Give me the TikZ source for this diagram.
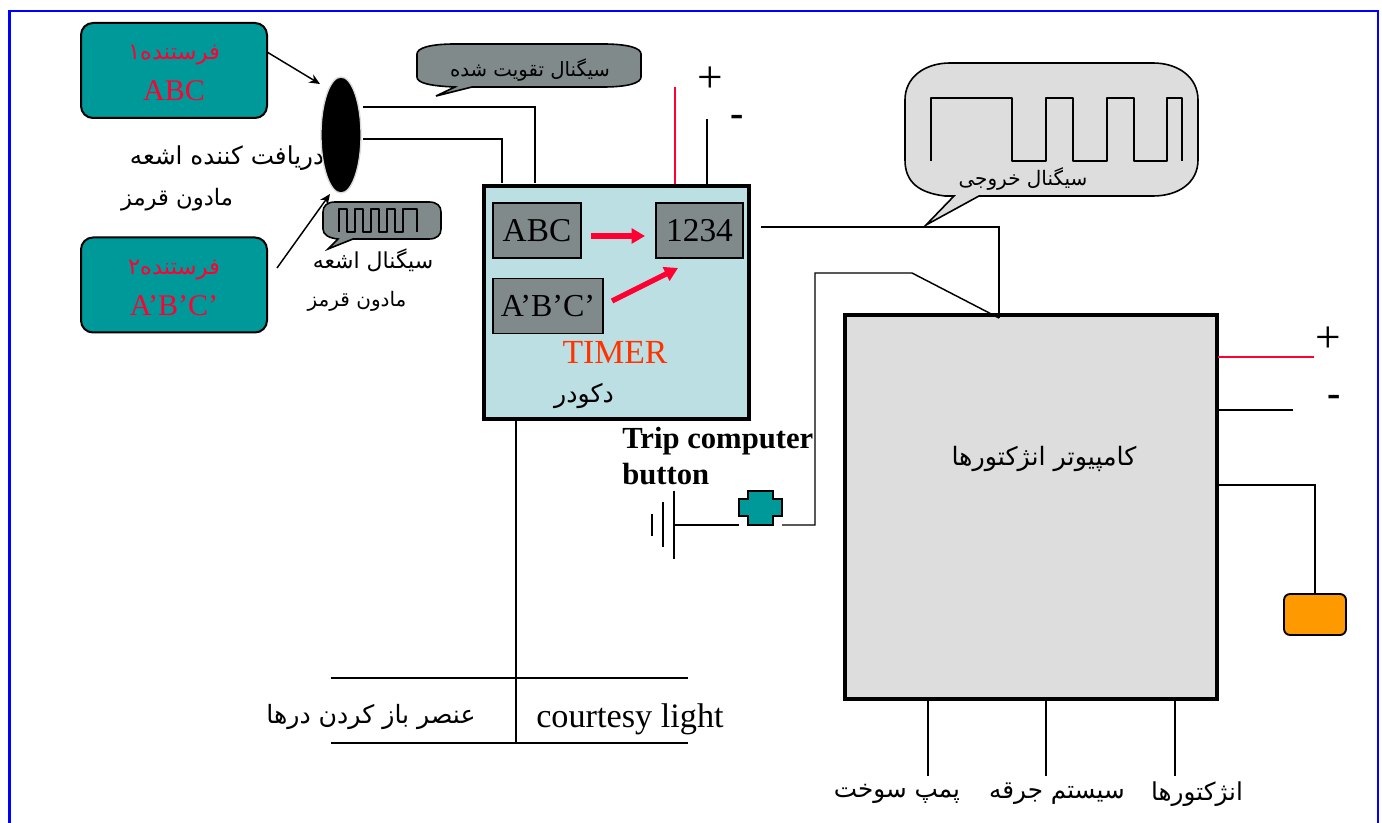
\documentclass[tikz,border=0pt]{standalone}
\usepackage{fontspec}
\usepackage{xcolor}
\setmainfont{Liberation Serif}
\newfontfamily\arabicfont[Script=Arabic]{DejaVu Sans}
\TeXXeTstate=1
\usetikzlibrary{arrows.meta,shapes.geometric}
\definecolor{senderteal}{HTML}{009999}
\definecolor{signalred}{HTML}{FF0033}
\definecolor{boxgray}{HTML}{808A8A}
\definecolor{panelgray}{HTML}{DDDDDD}
\definecolor{timerblue}{HTML}{BBDFE3}
\definecolor{timerorange}{HTML}{FF3300}
\definecolor{lamporange}{HTML}{FF9900}
\newcommand{\fa}[1]{{\arabicfont\beginR #1\endR}}
\newcommand{\fs}[1]{\fontsize{#1}{#1}\selectfont}
\tikzset{
  wire/.style={line width=1.1},
  redwire/.style={line width=1.1, signalred},
  pointer/.style={line width=1.1, -{Stealth[length=8, width=7]}},
  redpointer/.style={line width=4, signalred, -{Triangle[length=10, width=11]}},
  sender/.style={draw, line width=1.5, fill=senderteal, rounded corners=9, minimum width=139.5, minimum height=71.25, inner sep=0pt},
  codebox/.style={draw, line width=1.4, fill=boxgray, inner sep=0pt, minimum height=41.25},
  bubble/.style={draw, line width=1.2, fill=boxgray},
  pulse/.style={line width=1.2, line join=round},
  plain/.style={inner sep=0pt, align=center}
}
\begin{document}
\begin{tikzpicture}[x=0.75pt, y=-0.75pt]
  \useasboundingbox (0,0) rectangle (1382,823);
  % Page frame
  \draw[line width=2, blue] (9.5,823) -- (9.5,11) -- (1378,11) -- (1378,823);

  % Senders
  \node[sender] (sendera) at (174,70.5) {};
  \node[sender] (senderb) at (174,285) {};
  \node[plain, signalred, font=\fs{17}] (senderatitle) at (174,55) {\fa{فرستنده۱}};
  \node[plain, signalred, font=\fs{22.5}] (senderacode) at (174,91) {ABC};
  \node[plain, signalred, font=\fs{17}] (senderbtitle) at (174,270) {\fa{فرستنده۲}};
  \node[plain, signalred, font=\fs{22.5}] (senderbcode) at (174,306) {A’B’C’};

  % Receiver
  \node[plain, font=\fs{18.5}] (receivertext) at (227,158) {\fa{دریافت کننده اشعه}};
  \node[plain, font=\fs{17}] (receivertextb) at (177,200) {\fa{مادون قرمز}};
  \node[draw=black!15, line width=1, fill=black, ellipse, minimum width=30, minimum height=87, inner sep=0pt] (receiver) at (341,135) {};
  \coordinate (sendaout) at (267,52);
  \coordinate (sendain) at (320,84);
  \coordinate (sendbout) at (277,268);
  \coordinate (sendbin) at (330,194);
  \draw[pointer] (sendaout) -- (sendain);
  \draw[pointer] (sendbout) -- (sendbin);

  % Small signal bubble
  \draw[bubble] (335,202) -- (429,202) .. controls (437,202) and (441,206) .. (441,212)
    -- (441,229) .. controls (441,235) and (437,239) .. (429,239)
    -- (353,239) -- (328,249) -- (338,239) .. controls (329,238) and (323,235) .. (323,229)
    -- (323,212) .. controls (323,206) and (327,202) .. (335,202) -- cycle;
  \draw[pulse] (339,232) -- (339,209) -- (347,209) -- (347,232) -- (355,232) -- (355,209) -- (363,209) -- (363,232)
    -- (371,232) -- (371,209) -- (379,209) -- (379,232) -- (387,232) -- (387,209) -- (395,209) -- (395,232)
    -- (403,232) -- (403,209) -- (417,209) -- (417,232);
  \node[plain, font=\fs{16.5}] (infrared) at (373,260) {\fa{سیگنال اشعه}};
  \node[plain, font=\fs{15}] (infraredb) at (357,301) {\fa{مادون قرمز}};

  % Boosted signal bubble
  \draw[bubble] (455,44) -- (603,44) .. controls (628,44) and (641,48) .. (641,54)
    -- (641,77) .. controls (641,83) and (628,87) .. (603,87)
    -- (472,87) -- (436,96) -- (455,87) .. controls (430,86) and (417,83) .. (417,77)
    -- (417,54) .. controls (417,48) and (430,44) .. (455,44) -- cycle;
  \node[plain, font=\fs{14.8}] (boosted) at (530,70) {\fa{سیگنال تقویت شده}};

  % Timer block
  \node[draw, line width=3, fill=timerblue, minimum width=198.75, minimum height=174.75, inner sep=0pt] (timer) at (616.5,302.5) {};
  \node[codebox, minimum width=66, font=\fs{25}] (codea) at (537,230.5) {ABC};
  \node[codebox, minimum width=65.25, font=\fs{25}] (codeout) at (699.5,230.5) {1234};
  \node[codebox, minimum width=82.5, font=\fs{24}] (codeb) at (548,306) {A’B’C’};
  \node[plain, timerorange, font=\fs{25.3}] (timerlabel) at (615,352) {TIMER};
  \node[plain, font=\fs{18.9}] (decoder) at (584,396) {\fa{دکودر}};
  \coordinate (arrowa) at (591,236);
  \coordinate (arrowb) at (645,236);
  \coordinate (arrowc) at (612,301);
  \coordinate (arrowd) at (678,268);
  \draw[redpointer] (arrowa) -- (arrowb);
  \draw[redpointer] (arrowc) -- (arrowd);

  % Wires into timer
  \draw[wire] (363,107) -- (535,107) -- (535,183);
  \draw[wire] (363,139) -- (502,139) -- (502,183);
  \draw[redwire] (675,87) -- (675,184);
  \draw[wire] (707,119) -- (707,184);
  \node[plain, font=\fs{34}] (timerplus) at (710,80) {+};
  \node[plain, font=\fs{30}\bfseries] (timerminus) at (737,121) {-};

  % Output signal bubble
  \draw[line width=1.2, fill=panelgray] (954,196) -- (945,196) .. controls (920,193) and (905,183) .. (905,160)
    -- (905,100) .. controls (905,77) and (925,63) .. (950,63)
    -- (1153,63) .. controls (1178,63) and (1198,77) .. (1198,100)
    -- (1198,160) .. controls (1198,183) and (1178,196) .. (1153,196)
    -- (979,196) -- (926,225) -- cycle;
  \draw[pulse] (931,161) -- (931,98) -- (1012,98) -- (1012,161) -- (1046,161) -- (1046,98) -- (1073,98) -- (1073,161)
    -- (1107,161) -- (1107,98) -- (1134,98) -- (1134,161) -- (1167,161) -- (1167,98) -- (1182,98) -- (1182,161);
  \node[plain, font=\fs{15}] (outsignal) at (1023,179) {\fa{سیگنال خروجی}};

  % Injector computer
  \node[draw, line width=3, fill=panelgray, minimum width=279, minimum height=287.25, inner sep=0pt] (computer) at (1030.5,507) {};
  \node[plain, font=\fs{19}] (computertext) at (1044,459) {\fa{کامپیوتر انژکتورها}};
  \draw[wire] (761,227) -- (999,227) -- (999,318);
  \draw[wire] (782,525) -- (815,525) -- (815,273) -- (912,273) -- (999,318);

  % Trip button and battery
  \node[plain, anchor=north west, align=left, font=\fs{23}\bfseries] (tripbutton) at (622,427) {Trip computer\\[4pt]button};
  \draw[line width=1.4, fill=senderteal] (748,491) -- (773,491) -- (773,499) -- (782,499) -- (782,516) -- (773,516)
    -- (773,525) -- (748,525) -- (748,516) -- (739,516) -- (739,499) -- (748,499) -- cycle;
  \foreach \x/\y/\z in {674/491/559, 663/502/547, 652/514/536}
    \draw[wire] (\x,\y) -- (\x,\z);
  \draw[wire] (674,525) -- (739,525);

  % Computer supply and lamp
  \draw[redwire] (1218,357) -- (1314,357);
  \draw[wire] (1218,410) -- (1293,410);
  \node[plain, font=\fs{34}] (compplus) at (1328,340) {+};
  \node[plain, font=\fs{30}\bfseries] (compminus) at (1334,401) {-};
  \node[draw, line width=1.4, fill=lamporange, rounded corners=4.5, minimum width=46.5, minimum height=30.75, inner sep=0pt] (lamp) at (1315,614.5) {};
  \draw[wire] (1218,485) -- (1315,485) -- (lamp.north);

  % Computer outputs
  \foreach \x in {928, 1046, 1175}
    \draw[wire] (\x,700) -- (\x,776);
  \node[plain, font=\fs{18.5}] (fuelpump) at (897,794) {\fa{پمپ سوخت}};
  \node[plain, font=\fs{18.5}] (ignition) at (1057,794) {\fa{سیستم جرقه}};
  \node[plain, font=\fs{18.5}] (injectors) at (1197,794) {\fa{انژکتورها}};

  % Door lines
  \coordinate (doorjoin) at (516,743);
  \draw[wire] (timer.south -| doorjoin) -- (doorjoin);
  \foreach \y in {678, 743}
    \draw[wire] (331,\y) -- (688,\y);
  \node[plain, font=\fs{18.9}] (doorunit) at (371,717) {\fa{عنصر باز کردن درها}};
  \node[plain, font=\fs{25.7}] (courtesy) at (630,719) {courtesy light};
\end{tikzpicture}
\end{document}
